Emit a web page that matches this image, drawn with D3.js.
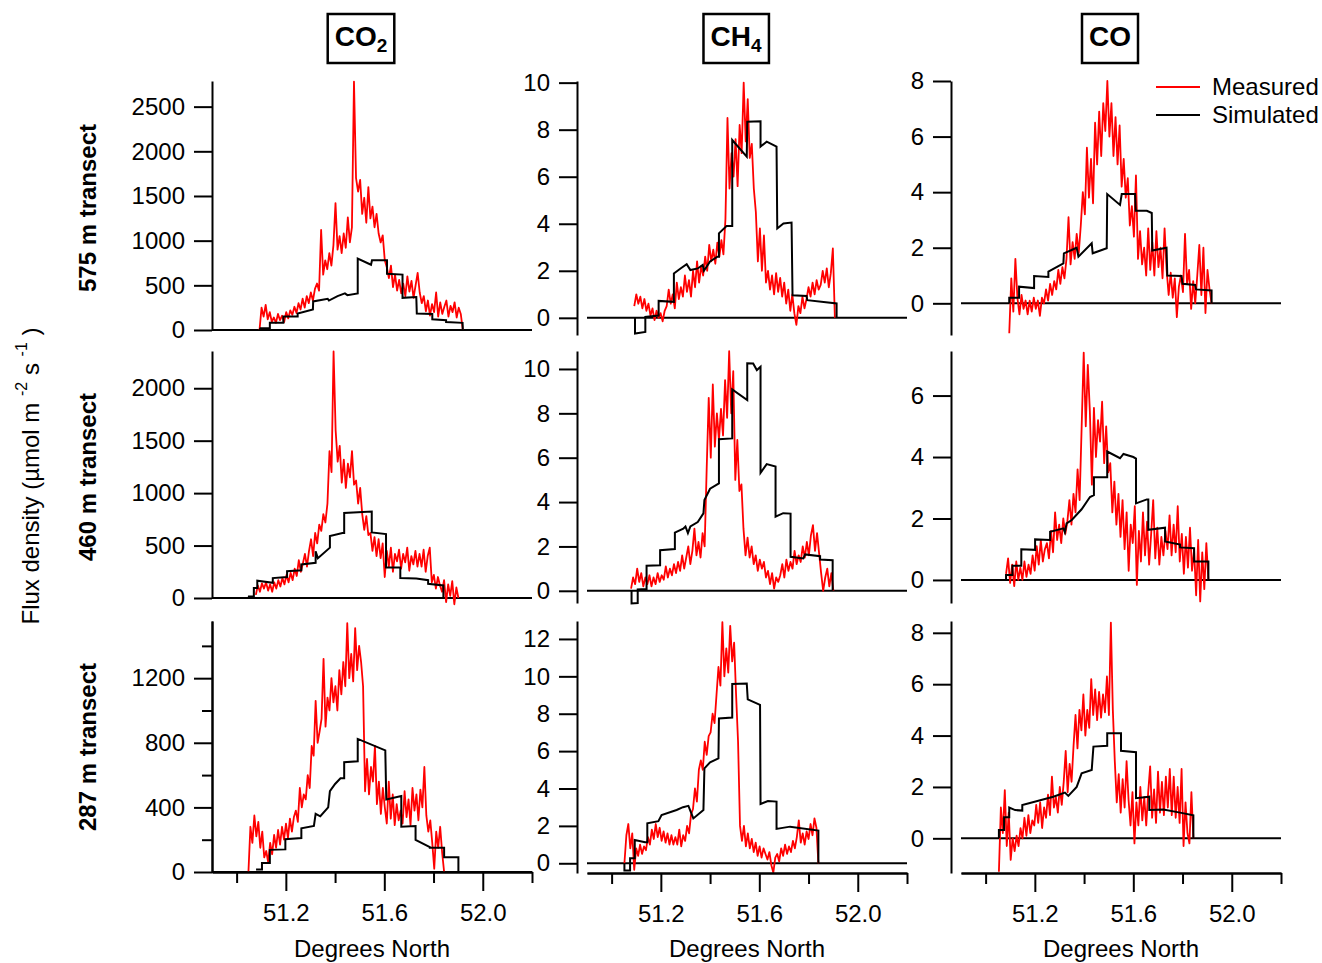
<!DOCTYPE html>
<html>
<head>
<meta charset="utf-8">
<script src="https://cdn.jsdelivr.net/npm/d3@7"></script>
<style>
body { margin: 0; background: #fff; }
svg text { font-family: "Liberation Sans", Arial, sans-serif; fill: #000; }
.axis path, .axis line { stroke: #000; stroke-width: 2; }
.axis text { font-size: 24px; }
</style>
</head>
<body>
<script>
// species and transects
const species = [['CO', '2'], ['CH', '4'], ['CO', '']]
const transects = ['575 m transect', '460 m transect', '287 m transect']

// tick labels
const co2Ticks = [[0, 500, 1000, 1500, 2000, 2500], [0, 500, 1000, 1500, 2000], [0, 400, 800, 1200]]
const co2Minor287 = [200, 600, 1000, 1400]
const ch4Ticks = [[0, 2, 4, 6, 8, 10], [0, 2, 4, 6, 8, 10], [0, 2, 4, 6, 8, 10, 12]]
const coTicks = [[0, 2, 4, 6, 8], [0, 2, 4, 6], [0, 2, 4, 6, 8]]
const xMajor = [51.2, 51.6, 52.0]
const xMinor = [51.0, 51.4, 51.8, 52.2]

// ---- CO2 ----
// measured: evenly sampled between the two latitudes of *_span
const co2_575_span = [51.093, 51.919]
const co2_575_meas = [0, 250, 150, 280, 120, 200, 90,
	140, 80, 180, 110, 160, 90, 200, 130, 220, 170, 260, 190,
	300, 230, 350, 250, 380, 300, 420, 330, 460,
	520, 440, 1120, 620, 780, 680, 860, 720, 950, 1420,
	900, 1050, 860, 1080, 920, 1260, 980, 1150,
	2780, 1700, 1550, 1680,
	1300, 1480, 1200, 1600, 1250, 1380, 1150, 1300, 1080,
	980, 1060, 780, 700, 580, 720, 480,
	620, 440, 560, 410, 520,
	380, 600, 430, 550, 360, 500, 640, 420, 300,
	380, 210, 330, 160, 290, 200, 420, 150,
	310, 180, 260, 330, 150, 270, 200, 310, 140, 250, 180, 0]
const co2_575_sim = [[51.093, 0], [51.097, 20], [51.135, 20], [51.135, 80], [51.19, 80], [51.19, 150],
	[51.248, 150], [51.248, 185], [51.31, 230], [51.311, 320], [51.37, 350], [51.375, 330], [51.41, 380],
	[51.44, 410], [51.45, 390], [51.492, 410], [51.492, 800], [51.546, 730], [51.55, 780], [51.611, 780],
	[51.611, 630], [51.674, 620], [51.674, 360], [51.73, 370], [51.732, 185], [51.795, 180], [51.795, 120],
	[51.851, 110], [51.851, 90], [51.918, 80], [51.919, 0]]

const co2_460_span = [51.078, 51.901]
const co2_460_meas = [30, 120, 60, 140, 90, 150, 70,
	130, 60, 150, 90, 170, 110, 190,
	130, 220, 150, 240, 170, 280, 210,
	360, 250, 330, 420, 300, 450,
	560, 400, 620, 520, 700,
	640, 800, 720, 900,
	1400, 1200,
	2350, 1600, 1300,
	1450, 1100, 1320,
	1050, 1280, 1150, 1400, 1080,
	1120, 900, 1050,
	800, 650, 780, 600,
	620, 450, 580, 400, 560, 380, 520,
	200, 450, 300, 480, 250, 420, 350,
	460, 280, 420, 340, 480, 260, 400, 320, 450, 300, 420,
	300, 460, 250, 400, 480,
	150, 220, 90, 200, 120,
	60, 170, -40, 130, 20, 160, -60, 100, 0]
const co2_460_sim = [[51.049, 0], [51.05, 15], [51.07, 15], [51.07, 95], [51.084, 95], [51.084, 165],
	[51.147, 145], [51.147, 190], [51.205, 200], [51.205, 255], [51.263, 265], [51.263, 320], [51.321, 335],
	[51.321, 445], [51.33, 380], [51.379, 480], [51.379, 590], [51.43, 620], [51.437, 620], [51.437, 810],
	[51.549, 825], [51.549, 625], [51.607, 610], [51.607, 290], [51.665, 290], [51.665, 190], [51.73, 185],
	[51.778, 170], [51.778, 135], [51.84, 120], [51.84, 0]]

const co2_287_span = [51.048, 51.843]
const co2_287_meas = [0, 280, 180, 350, 220, 310, 150,
	250, 90, 130, 60,
	180, 110, 230, 150, 260, 170, 280, 200,
	300, 210, 330, 250, 340,
	380, 310, 520, 400, 480, 450,
	600, 520, 780,
	720, 1060, 800, 870,
	950, 1320, 900, 1080, 1000,
	1200, 1050, 1150, 1000, 1250, 1100,
	1300, 1150, 1540, 1200,
	1350, 1180, 1510, 1250, 1400,
	1300, 1150,
	500, 700, 480, 650, 560,
	780, 420, 560, 360, 520,
	400, 300, 560, 330, 480, 290,
	420, 320, 380,
	300, 500, 340, 450, 290, 520, 380, 480, 320, 510, 400, 650, 350,
	250, 320, 180,
	20, 250, 150, 280, 120,
	0]
const co2_287_sim = [[51.079, 15], [51.103, 15], [51.103, 55], [51.135, 55], [51.135, 137], [51.198, 140],
	[51.198, 203], [51.263, 210], [51.263, 270], [51.314, 285], [51.321, 360], [51.34, 345], [51.372, 400],
	[51.379, 500], [51.40, 545], [51.422, 580], [51.437, 580], [51.437, 680], [51.492, 685], [51.492, 824],
	[51.604, 753], [51.608, 449], [51.669, 470], [51.669, 280], [51.727, 285], [51.727, 199], [51.785, 154],
	[51.785, 150], [51.843, 150], [51.843, 92], [51.901, 92], [51.901, 0]]

// ---- CH4 ----
const ch4_575_span = [51.092, 51.907]
const ch4_575_meas = [0.5, 1.0, 0.6, 0.9, 0.4, 0.8, 0.3, 0.6,
	0.1, 0.4, -0.1, 0.3, 0.0, 0.2, -0.15, 0.3,
	0.5, 1.2, 0.6, 1.0, 0.4, 1.5, 0.8,
	1.3, 0.9, 1.8, 1.1, 1.6, 0.9,
	2.0, 1.3, 2.4, 1.5, 2.2, 1.8, 2.6,
	2.0, 3.1, 2.4, 2.9, 2.3, 3.2,
	2.6, 3.3, 2.7, 4.2,
	8.5, 5.5, 7.0,
	6.0, 7.6, 5.6,
	8.2, 7.0,
	10.0, 7.5,
	9.3, 6.8, 7.4, 5.5,
	4.5, 2.4,
	3.8, 2.0, 3.5,
	1.5, 2.0, 1.2, 1.8, 1.0, 1.9, 1.1, 1.7, 0.9, 1.5,
	0.6, 1.2, 0.3, 1.0, 0.2,
	-0.3, 0.5,
	0.2, 0.9, 0.4,
	0.8, 1.3, 0.9, 1.5, 1.0, 1.6, 1.2,
	1.4, 2.0, 1.5, 2.1, 1.3, 1.9, 2.95,
	0.0]
const ch4_575_sim = [[51.095, 0], [51.095, -0.67], [51.137, -0.6], [51.137, 0.04], [51.191, 0.1], [51.191, 0.72],
	[51.253, 0.68], [51.253, 1.89], [51.28, 2.1], [51.305, 2.28], [51.32, 2.03], [51.35, 2.1], [51.37, 2.25],
	[51.375, 2.0], [51.40, 2.4], [51.43, 2.6], [51.436, 2.6], [51.436, 3.59], [51.467, 3.9], [51.49, 3.9],
	[51.49, 7.56], [51.549, 6.85], [51.551, 8.34], [51.605, 8.36], [51.605, 7.28], [51.63, 7.49], [51.67, 7.28],
	[51.673, 3.8], [51.698, 4.01], [51.731, 4.05], [51.735, 0.96], [51.792, 0.93], [51.795, 0.75], [51.914, 0.61],
	[51.914, 0]]

const ch4_460_span = [51.079, 51.901]
const ch4_460_meas = [0.1, 0.6, 0.3, 1.0, 0.4, 0.8, 0.2, 0.6,
	0.3, 0.7, 0.2, 0.6, 0.3, 0.8, 0.4, 0.7,
	0.5, 1.1, 0.6, 1.0, 0.7, 1.2, 0.8, 1.3,
	0.9, 1.6, 1.0, 1.5, 2.0, 1.2,
	1.8, 2.8, 1.6, 2.2, 1.5,
	2.6, 2.0,
	5.5, 8.7,
	6.0, 9.3, 6.5, 8.0,
	6.8, 8.2, 7.0,
	9.5, 7.8,
	10.8, 8.0, 9.9,
	5.0, 6.8,
	4.5, 4.8,
	2.8, 1.6, 2.4, 1.5, 2.0,
	1.2, 1.6, 0.9, 1.4, 1.0, 1.3,
	0.6, 0.9, 0.3, 0.8, 0.1, 0.6, 0.4,
	0.7, 1.2, 0.6, 1.4, 0.9, 1.3,
	1.0, 1.8, 1.2, 1.6, 1.3, 2.0, 1.5,
	2.2, 1.6, 2.5,
	2.96, 1.8, 2.6, 1.7,
	0.8, 0.0, 0.6,
	1.0, 0.2, 0.8,
	0]
const ch4_460_sim = [[51.081, 0], [51.081, -0.57], [51.106, -0.55], [51.106, 0.06], [51.142, 0.08], [51.142, 1.13],
	[51.197, 1.15], [51.197, 1.83], [51.257, 1.88], [51.257, 2.62], [51.291, 2.8], [51.30, 2.9], [51.31, 2.6],
	[51.32, 2.9], [51.35, 3.1], [51.373, 3.49], [51.377, 4.09], [51.40, 4.6], [51.436, 4.84], [51.436, 6.83],
	[51.49, 6.87], [51.49, 9.08], [51.551, 8.6], [51.551, 10.26], [51.575, 10.25], [51.59, 9.95], [51.605, 10.1],
	[51.605, 5.32], [51.63, 5.71], [51.666, 5.6], [51.666, 3.34], [51.697, 3.5], [51.727, 3.48], [51.727, 1.53],
	[51.779, 1.46], [51.786, 1.64], [51.847, 1.56], [51.847, 1.41], [51.898, 1.38], [51.898, 0]]

const ch4_287_span = [51.052, 51.840]
const ch4_287_meas = [0.0, 1.5, 2.1,
	0.8, 1.6,
	-0.35, 0.8, 0.4, 1.0, 0.5, 0.9,
	0.7, 1.4, 1.0, 1.8, 1.3, 2.1, 1.4,
	1.9, 1.2, 1.7, 1.1, 1.6, 1.0, 1.5, 1.0, 1.4,
	1.0, 1.8, 0.9, 1.5, 1.2,
	2.0, 1.6, 2.6,
	2.9, 4.0, 3.3, 5.0,
	5.5, 5.0, 6.5, 5.8, 6.8,
	7.0, 8.0, 7.5,
	9.0, 10.5, 9.5, 12.9, 10.0,
	11.5, 10.2, 12.7, 10.8, 11.8,
	9.0, 6.5, 2.0,
	1.2, 2.0, 0.9, 1.6, 0.8, 1.3,
	0.6, 1.1, 0.4, 0.9, 0.3, 0.8, 0.5,
	0.2, 0.6, -0.1, -0.5, 0.3,
	0.5, 0.1, 0.8, 0.4, 1.0, 0.5, 0.9, 0.6,
	1.2, 0.8, 1.4, 2.3, 1.1, 1.6, 1.0,
	1.7, 1.3, 2.1, 1.5, 2.4, 1.9,
	0.0]
const ch4_287_sim = [[51.052, 0], [51.052, -0.39], [51.075, -0.39], [51.075, 0.27], [51.094, 0.27], [51.094, 1.25],
	[51.136, 1.12], [51.145, 1.12], [51.145, 2.14], [51.19, 2.25], [51.203, 2.58], [51.264, 2.85], [51.29, 3.0],
	[51.312, 3.07], [51.332, 2.4], [51.373, 2.85], [51.377, 5.08], [51.40, 5.4], [51.434, 5.61], [51.436, 7.75],
	[51.49, 7.8], [51.49, 9.59], [51.549, 9.62], [51.553, 8.77], [51.603, 8.47], [51.605, 3.17], [51.635, 3.33],
	[51.67, 3.3], [51.67, 1.84], [51.725, 1.96], [51.84, 1.75], [51.84, 0]]

// ---- CO ----
const co_575_span = [51.096, 51.918]
const co_575_meas = [-1.08, 0.9, -0.3,
	1.6, 0.2, -0.4, 0.3, -0.2, 0.1,
	-0.4, 0.1, -0.3, 0.2, -0.2, 0.1, -0.45, 0.2,
	0.0, 0.5, 0.1, 0.7, 0.3, 0.8,
	0.5, 1.2, 0.7, 1.3, 0.9,
	1.6, 3.1, 1.4,
	2.2, 1.6, 2.5, 1.8, 2.8,
	4.0, 3.2, 5.6, 3.8,
	5.2, 3.6, 6.5,
	5.0, 6.9, 5.3,
	7.2, 6.2, 8.0,
	6.0, 7.2,
	5.3, 6.7,
	5.0, 6.4, 4.2, 5.2,
	3.8, 4.5, 2.8, 3.5,
	2.4, 4.6, 1.6, 2.6, 1.4,
	2.0, 1.0, 2.7, 1.2,
	2.2, 1.0, 2.6, 1.3, 2.0, 0.9, 2.7,
	1.2, 0.3, 1.1, 0.2, 0.9, -0.5, 0.6,
	1.0, 0.4, 2.5, 0.7,
	1.2, -0.2, 0.8, 0.0, 1.0,
	2.1, 0.3, 2.0, -0.35, 1.2, 0.5,
	0.0]
const co_575_sim = [[51.096, 0], [51.096, 0.2], [51.136, 0.2], [51.136, 0.6], [51.197, 0.55], [51.197, 0.98],
	[51.255, 0.95], [51.255, 1.14], [51.316, 1.44], [51.318, 1.8], [51.370, 2.0], [51.377, 1.68], [51.431, 2.16],
	[51.435, 1.8], [51.492, 1.98], [51.494, 3.93], [51.546, 3.54], [51.553, 3.93], [51.607, 3.93], [51.61, 3.33],
	[51.655, 3.33], [51.675, 3.25], [51.677, 1.9], [51.735, 2.0], [51.738, 1.0], [51.796, 0.98], [51.80, 0.7],
	[51.851, 0.66], [51.855, 0.5], [51.918, 0.46], [51.918, 0]]

const co_460_span = [51.083, 51.905]
const co_460_meas = [0.2, 0.7, -0.1, 0.5, -0.2, 0.6, 0.0,
	0.4, 0.0, 0.6, 0.1, 0.5, 0.2,
	0.8, 0.3, 1.1, 0.5, 1.3, 0.6, 1.0,
	1.2, 0.7, 1.6, 0.9, 2.2, 1.3,
	1.8, 1.2, 2.0, 1.5, 1.9,
	2.6, 1.8, 2.8, 2.2,
	3.6, 2.6,
	5.0, 7.4,
	5.0, 7.0, 5.5,
	3.1, 5.6, 4.0, 5.2,
	4.5, 5.8,
	3.8, 5.0, 3.5,
	3.8, 2.2, 3.2, 1.8, 2.8,
	1.4, 2.6, 1.0, 2.2, 0.3,
	1.8, 1.2, 2.4,
	-0.16, 1.6, 0.6, 2.2, 0.8, 1.9, 0.5, 1.5,
	2.6, 0.7, 1.7, 0.5, 1.4, 0.8, 1.6,
	1.0, 2.1, 0.8, 1.8, 0.9, 2.4,
	0.6, 1.5, 0.2, 1.4, 0.4, 1.7, 0.3,
	1.0, -0.5, 1.3, -0.7, 0.9, -0.3, 1.2,
	0.0]
const co_460_sim = [[51.083, 0], [51.083, 0.16], [51.109, 0.16], [51.109, 0.46], [51.145, 0.46], [51.145, 1.0],
	[51.201, 0.98], [51.201, 1.32], [51.262, 1.3], [51.262, 1.57], [51.316, 1.68], [51.322, 1.55], [51.329, 1.84],
	[51.35, 1.95], [51.39, 2.3], [51.424, 2.7], [51.44, 2.76], [51.44, 3.34], [51.494, 3.34], [51.494, 4.18],
	[51.546, 3.96], [51.56, 4.1], [51.60, 4.0], [51.611, 3.95], [51.611, 2.49], [51.655, 2.62], [51.661, 2.62],
	[51.661, 1.63], [51.729, 1.7], [51.729, 1.25], [51.79, 1.15], [51.79, 1.06], [51.847, 1.03], [51.847, 0.6],
	[51.905, 0.6], [51.905, 0]]

const co_287_span = [51.054, 51.844]
const co_287_meas = [-1.3, 1.2,
	0.2, 1.88, -0.3, 1.0,
	-0.84, 0.0, -0.5, 0.1, -0.3,
	0.4, 0.0, 0.8, 0.1, 0.9, 0.2, 0.7,
	0.5, 1.3, 0.6, 1.4, 0.4, 1.2,
	0.8, 1.7, 0.9, 2.4, 1.2,
	1.6, 1.0, 2.0, 1.3, 2.2,
	3.4, 1.8, 2.9, 2.2,
	3.6, 4.8, 3.5, 5.0,
	4.2, 5.6, 4.0, 5.0, 4.3,
	6.2, 4.8, 5.8, 4.6, 5.7, 4.7, 5.6, 4.9,
	6.3, 4.8,
	8.4, 5.0,
	3.0,
	1.4, 2.5, 1.0, 2.3, 1.2,
	3.0, 1.5, 0.5, 1.8, -0.2,
	1.4, 0.5, 2.0, 0.7, 1.6, 0.5, 1.8,
	2.8, 0.8, 1.9, 0.6, 2.6, 1.0, 2.2, 0.9, 2.4,
	1.2, 2.7, 0.9, 2.4, 0.8, 2.0,
	0.6, 2.7, -0.3, 1.4, 0.2, -0.2, 1.8,
	0.0]
const co_287_sim = [[51.054, 0], [51.054, 0.32], [51.075, 0.32], [51.075, 0.82], [51.096, 0.82], [51.096, 1.2],
	[51.12, 1.1], [51.149, 1.08], [51.149, 1.3], [51.275, 1.62], [51.322, 1.78], [51.336, 1.65], [51.37, 2.0],
	[51.39, 2.53], [51.431, 2.66], [51.438, 3.57], [51.494, 3.6], [51.494, 4.09], [51.55, 4.09], [51.55, 3.41],
	[51.611, 3.35], [51.611, 1.56], [51.665, 1.62], [51.665, 1.1], [51.722, 1.12], [51.79, 1.0], [51.844, 0.9],
	[51.844, 0]]

// layout
const W = 1322
const H = 963
const plotW = 320
const xDomain = [50.9, 52.2]
const cols = [{ left: 212, axisX: 212 }, { left: 587, axisX: 577 }, { left: 961, axisX: 951 }]
const rowMid = [208, 477, 747]

const panels = [
	{ col: 0, row: 0, span: co2_575_span, meas: co2_575_meas, sim: co2_575_sim, dom: [0, 2787], rng: [330, 81], ticks: co2Ticks[0] },
	{ col: 1, row: 0, span: ch4_575_span, meas: ch4_575_meas, sim: ch4_575_sim, dom: [-0.73, 10.07], rng: [335, 81], ticks: ch4Ticks[0] },
	{ col: 2, row: 0, span: co_575_span, meas: co_575_meas, sim: co_575_sim, dom: [-1.14, 8.0], rng: [335, 81], ticks: coTicks[0] },
	{ col: 0, row: 1, span: co2_460_span, meas: co2_460_meas, sim: co2_460_sim, dom: [0, 2355], rng: [598, 351], ticks: co2Ticks[1] },
	{ col: 1, row: 1, span: ch4_460_span, meas: ch4_460_meas, sim: ch4_460_sim, dom: [-0.55, 10.81], rng: [603, 351], ticks: ch4Ticks[1] },
	{ col: 2, row: 1, span: co_460_span, meas: co_460_meas, sim: co_460_sim, dom: [-0.75, 7.45], rng: [603, 351], ticks: coTicks[1] },
	{ col: 0, row: 2, span: co2_287_span, meas: co2_287_meas, sim: co2_287_sim, dom: [0, 1554], rng: [872, 621], ticks: co2Ticks[2], minor: co2Minor287 },
	{ col: 1, row: 2, span: ch4_287_span, meas: ch4_287_meas, sim: ch4_287_sim, dom: [-0.52, 12.96], rng: [873, 621], ticks: ch4Ticks[2] },
	{ col: 2, row: 2, span: co_287_span, meas: co_287_meas, sim: co_287_sim, dom: [-1.35, 8.46], rng: [873, 621], ticks: coTicks[2] }
]

const svg = d3.select('body').append('svg').attr('width', W).attr('height', H)

panels.forEach(p => {
	const c = cols[p.col]
	const x = d3.scaleLinear().domain(xDomain).range([c.left, c.left + plotW])
	const y = d3.scaleLinear().domain(p.dom).range(p.rng)

	// left axis
	svg.append('g')
		.attr('class', 'axis')
		.attr('transform', `translate(${c.axisX},0)`)
		.call(d3.axisLeft(y).tickValues(p.ticks).tickFormat(d3.format('d')).tickSize(18).tickPadding(9).tickSizeOuter(0))
	if (p.minor) {
		svg.append('g')
			.attr('class', 'axis')
			.attr('transform', `translate(${c.axisX},0)`)
			.call(d3.axisLeft(y).tickValues(p.minor).tickSize(10).tickFormat('').tickSizeOuter(0))
	}

	// zero line
	svg.append('line')
		.attr('x1', x.range()[0]).attr('x2', x.range()[1])
		.attr('y1', y(0)).attr('y2', y(0))
		.attr('stroke', '#000').attr('stroke-width', 2)

	const line = d3.line().x(d => x(d[0])).y(d => y(d[1]))
	const n = p.meas.length
	const measured = p.meas.map((v, i) => [p.span[0] + (i * (p.span[1] - p.span[0])) / (n - 1), v])

	svg.append('path').datum(measured).attr('d', line)
		.attr('fill', 'none').attr('stroke', '#ff0000').attr('stroke-width', 1.8).attr('stroke-linejoin', 'round')
	svg.append('path').datum(p.sim).attr('d', line)
		.attr('fill', 'none').attr('stroke', '#000').attr('stroke-width', 2)

	// bottom axis for the last row
	if (p.row === 2) {
		const yb = p.col === 0 ? 872 : 873
		svg.append('g')
			.attr('class', 'axis')
			.attr('transform', `translate(0,${yb})`)
			.call(d3.axisBottom(x).tickValues(xMajor).tickSize(19).tickPadding(13).tickFormat(d3.format('.1f')).tickSizeOuter(0))
		svg.append('g')
			.attr('class', 'axis')
			.attr('transform', `translate(0,${yb})`)
			.call(d3.axisBottom(x).tickValues(xMinor).tickSize(11).tickFormat('').tickSizeOuter(0))
		svg.append('text')
			.attr('x', c.left + plotW / 2).attr('y', 957)
			.attr('text-anchor', 'middle')
			.style('font-size', '24px')
			.text('Degrees North')
	}
})

// column titles in boxes
species.forEach((s, i) => {
	const cx = cols[i].left + plotW / 2 - 11
	const t = svg.append('text')
		.attr('x', cx).attr('y', 46)
		.attr('text-anchor', 'middle')
		.style('font-size', '28px').style('font-weight', 'bold')
	t.append('tspan').text(s[0])
	if (s[1]) t.append('tspan').text(s[1]).style('font-size', '19px').attr('dy', 6)
	const bb = t.node().getBBox()
	svg.append('rect')
		.attr('x', bb.x - 7).attr('y', 14)
		.attr('width', bb.width + 14).attr('height', 49)
		.attr('fill', 'none').attr('stroke', '#000').attr('stroke-width', 2.5)
})

// row labels
transects.forEach((t, i) => {
	svg.append('text')
		.attr('transform', `translate(96,${rowMid[i]}) rotate(-90)`)
		.attr('text-anchor', 'middle')
		.style('font-size', '24px').style('font-weight', 'bold')
		.text(t)
})

// y title
const yt = svg.append('text')
	.attr('transform', 'translate(39,476) rotate(-90)')
	.attr('text-anchor', 'middle')
	.style('font-size', '24px')
yt.append('tspan').text('Flux density (µmol m ')
yt.append('tspan').text('-2').style('font-size', '16px').attr('dy', -12)
yt.append('tspan').text(' s ').attr('dy', 12)
yt.append('tspan').text('-1').style('font-size', '16px').attr('dy', -12)
yt.append('tspan').text(' )').attr('dy', 12)

// legend
const legend = [['Measured', '#ff0000'], ['Simulated', '#000']]
legend.forEach((l, i) => {
	const ly = 87 + i * 28
	svg.append('line')
		.attr('x1', 1156).attr('x2', 1200).attr('y1', ly).attr('y2', ly)
		.attr('stroke', l[1]).attr('stroke-width', 2)
	svg.append('text')
		.attr('x', 1212).attr('y', ly + 8)
		.style('font-size', '24px')
		.text(l[0])
})
</script>
</body>
</html>
